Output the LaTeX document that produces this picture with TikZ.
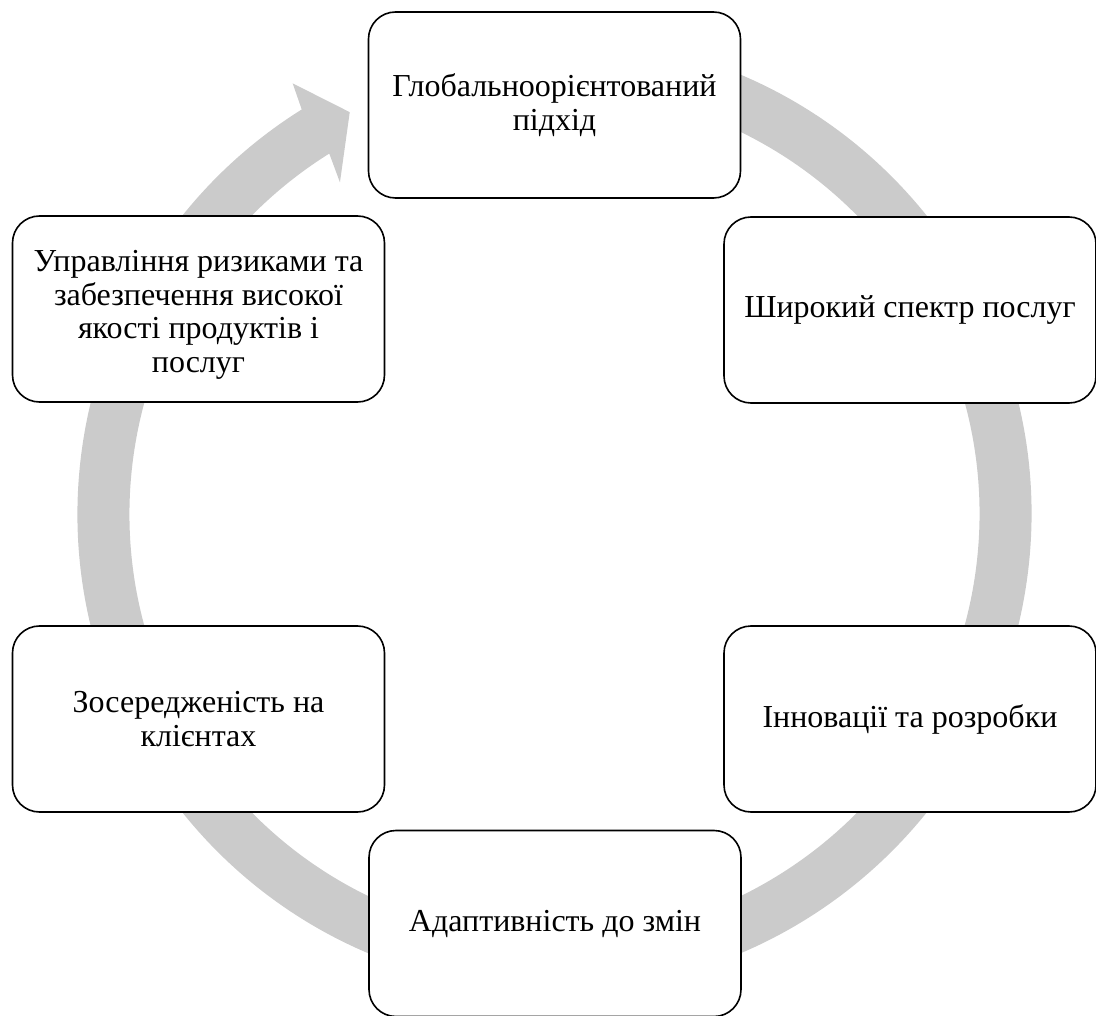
\documentclass[tikz,border=0pt]{standalone}
\usepackage{fontspec}
\setmainfont{Liberation Serif}
\definecolor{ringgray}{RGB}{203,203,203}
\begin{document}
\begin{tikzpicture}[x=1pt,y=1pt,
  cyclebox/.style={draw=black, line width=1.6pt, fill=white, rounded corners=27pt,
    minimum width=372pt, minimum height=186pt, align=center, inner sep=0pt,
    font=\fontsize{32}{34}\selectfont}]
\useasboundingbox (0,0) rectangle (1096,-1016);
% ring arrow
\begin{scope}[shift={(554.5,-514)}]
\fill[ringgray] (80:477) arc[start angle=80, end angle=-238, radius=477pt]
  -- (121.3:504) -- (117:451) -- (122.9:395) -- (122:425)
  arc[start angle=-238, end angle=80, radius=425pt] -- cycle;
\end{scope}
% boxes
\node[cyclebox] (n1) at (554.5,-105) {Глобальноорієнтований\\підхід};
\node[cyclebox] (n2) at (910,-310) {Широкий спектр послуг};
\node[cyclebox] (n3) at (910,-719) {Інновації та розробки};
\node[cyclebox] (n4) at (555,-923.5) {Адаптивність до змін};
\node[cyclebox] (n5) at (198.5,-719) {Зосередженість на\\клієнтах};
\node[cyclebox] (n6) at (198.5,-309) {\parbox{370pt}{\vspace*{12pt}\centering\fontsize{32}{33.7}\selectfont Управління ризиками та\\забезпечення високої\\якості продуктів і\\послуг}};
\end{tikzpicture}
\end{document}
